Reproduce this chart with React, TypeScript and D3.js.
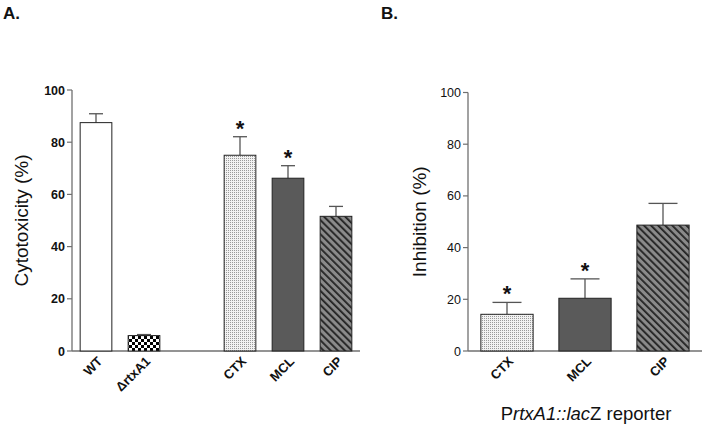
import React from "react";
import * as d3 from "d3";

const catsA = ["WT", "ΔrtxA1", "", "CTX", "MCL", "CIP"];
const valsA = [87.5, 5.9, null, 75.0, 66.2, 51.6];
const errA = [3.4, 0.4, null, 7.1, 4.8, 3.8];
const starA = [false, false, false, true, true, false];
const fillA = ["white", "url(#checker)", "none", "url(#dots)", "#5a5a5a", "url(#stripes)"];

const catsB = ["CTX", "MCL", "CIP"];
const valsB = [14.2, 20.4, 48.7];
const errB = [4.6, 7.5, 8.4];
const starB = [true, true, false];
const fillB = ["url(#dots)", "#5a5a5a", "url(#stripes)"];

const yTicks = [0, 20, 40, 60, 80, 100];
const FONT = "'Liberation Sans', Arial, Helvetica, sans-serif";
const AXIS = "#707070";

type PanelProps = {
  cats: string[];
  vals: (number | null)[];
  errs: (number | null)[];
  stars: boolean[];
  fills: string[];
  x0: number;
  x1: number;
  y0: number;
  y1: number;
  pad: number;
  boldTicks: boolean;
  ylabel: string;
  ylabelX: number;
  capW: number;
};

function Panel(p: PanelProps) {
  const x = d3.scaleBand<string>().domain(p.cats.map((c, i) => i + "")).range([p.x0, p.x1]).paddingInner(p.pad).paddingOuter(p.pad / 2);
  const y = d3.scaleLinear().domain([0, 100]).range([p.y0, p.y1]);
  const bw = x.bandwidth();
  return (
    <g>
      <line x1={p.x0} x2={p.x0} y1={y(0)} y2={y(100)} stroke={AXIS} strokeWidth={1.3} />
      <line x1={p.x0} x2={p.x1} y1={y(0)} y2={y(0)} stroke={AXIS} strokeWidth={1.3} />
      {yTicks.map((t) => (
        <g key={t}>
          <line x1={p.x0 - 5} x2={p.x0} y1={y(t)} y2={y(t)} stroke={AXIS} strokeWidth={1.2} />
          <text x={p.x0 - 7} y={y(t)} dy="0.36em" textAnchor="end" fontSize={12.5} fontWeight={p.boldTicks ? "bold" : "normal"} fontFamily={FONT} fill="#111">
            {t}
          </text>
        </g>
      ))}
      <text transform={`translate(${p.ylabelX},${(y(0) + y(100)) / 2}) rotate(-90)`} textAnchor="middle" fontSize={19} fontFamily={FONT} fill="#111">
        {p.ylabel}
      </text>
      {p.cats.map((c, i) => {
        const v = p.vals[i];
        if (v == null) return null;
        const bx = x(i + "")!;
        const cx = bx + bw / 2;
        const e = p.errs[i] ?? 0;
        return (
          <g key={i}>
            <line x1={cx} x2={cx} y1={y(v)} y2={y(v + e)} stroke="#555" strokeWidth={1.3} />
            <line x1={cx - p.capW / 2} x2={cx + p.capW / 2} y1={y(v + e)} y2={y(v + e)} stroke="#555" strokeWidth={1.3} />
            <rect x={bx} y={y(v)} width={bw} height={y(0) - y(v)} fill={p.fills[i]} stroke="#222" strokeWidth={1} />
            {p.stars[i] && (
              <text x={cx} y={y(v + e) - 1} textAnchor="middle" fontSize={22} fontWeight="bold" fontFamily={FONT} fill="#111">
                *
              </text>
            )}
            <text transform={`translate(${cx + 4},${y(0) + 8}) rotate(-45)`} textAnchor="end" dy="0.35em" fontSize={13} fontWeight="bold" fontFamily={FONT} fill="#111">
              {c}
            </text>
          </g>
        );
      })}
    </g>
  );
}

export default function App() {
  return (
    <svg width={704} height={432} style={{ position: "absolute", left: 0, top: 0, background: "white" }}>
      <defs>
        <pattern id="checker" width={6} height={6} patternUnits="userSpaceOnUse">
          <rect width={6} height={6} fill="white" />
          <rect width={3} height={3} fill="black" />
          <rect x={3} y={3} width={3} height={3} fill="black" />
        </pattern>
        <pattern id="dots" width={2} height={2} patternUnits="userSpaceOnUse">
          <rect width={2} height={2} fill="#f2f2f2" />
          <rect width={1} height={1} fill="#9a9a9a" />
        </pattern>
        <pattern id="stripes" width={5} height={5} patternUnits="userSpaceOnUse" patternTransform="rotate(-45)">
          <rect width={5} height={5} fill="#8a8a8a" />
          <rect width={1.8} height={5} fill="#222" />
        </pattern>
      </defs>
      <rect width={704} height={432} fill="white" />
      <text x={3} y={19} fontSize={17} fontWeight="bold" fontFamily={FONT} fill="#111">A.</text>
      <text x={381} y={19} fontSize={17} fontWeight="bold" fontFamily={FONT} fill="#111">B.</text>
      <Panel cats={catsA} vals={valsA} errs={errA} stars={starA} fills={fillA} x0={72} x1={360} y0={351} y1={90} pad={0.34} boldTicks={true} ylabel="Cytotoxicity (%)" ylabelX={28} capW={14} />
      <Panel cats={catsB} vals={valsB} errs={errB} stars={starB} fills={fillB} x0={468} x1={702} y0={351} y1={92.5} pad={0.33} boldTicks={false} ylabel="Inhibition (%)" ylabelX={426} capW={29} />
      <text x={586} y={420} textAnchor="middle" fontSize={18.5} fontFamily={FONT} fill="#111">
        P<tspan fontStyle="italic">rtxA1::lac</tspan>Z reporter
      </text>
    </svg>
  );
}
